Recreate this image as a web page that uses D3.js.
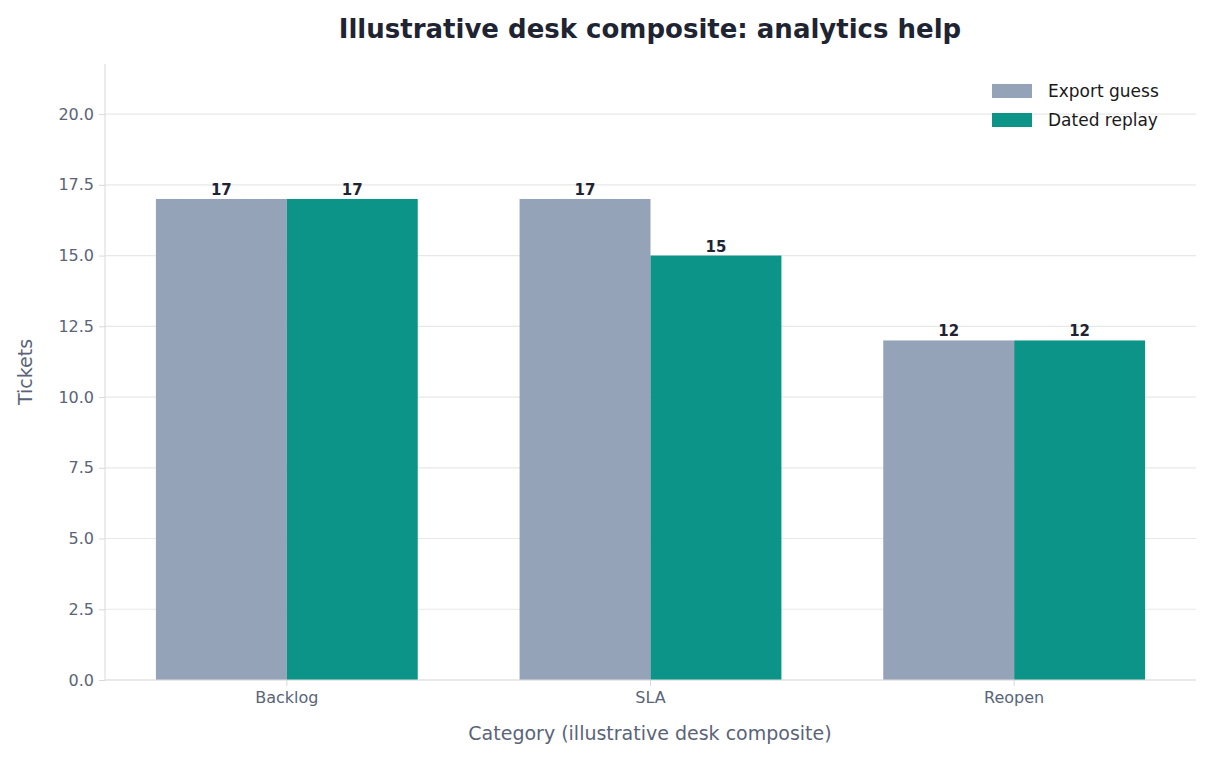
<!DOCTYPE html>
<html><head><meta charset="utf-8">
<script src="https://cdn.jsdelivr.net/npm/d3@7"></script>
<style>body{margin:0;background:#fff;font-family:"DejaVu Sans",sans-serif;}</style>
</head><body><svg id="c" width="1212" height="760"></svg>
<script>
const categories = ["Backlog","SLA","Reopen"];
const seriesNames = ["Export guess","Dated replay"];
const exportGuess = [17,17,12];
const datedReplay = [17,15,12];
const yTicks = [0,2.5,5,7.5,10,12.5,15,17.5,20];
const colors = ["#94a3b8","#0d9488"];

const svg = d3.select("#c");
const L=105,R=1196,T=64,B=680;
const x = d3.scaleBand().domain(categories).range([L,R]).padding(0);
const y = d3.scaleLinear().domain([0,21.77]).range([B,T]);
const bw = x.step()*0.36;

svg.append("text").attr("x",650).attr("y",38).attr("text-anchor","middle")
 .attr("font-size",26).attr("font-weight","bold").attr("fill","#1f2433")
 .text("Illustrative desk composite: analytics help");

const g = svg.append("g");
g.selectAll(".grid").data(yTicks).join("line")
 .attr("x1",L).attr("x2",R).attr("y1",d=>y(d)).attr("y2",d=>y(d))
 .attr("stroke","#e8e8e8").attr("stroke-width",1.2);

const series=[exportGuess,datedReplay];
series.forEach((vals,si)=>{
  const cx = c=>x(c)+x.bandwidth()/2 + (si===0?-bw:0);
  g.selectAll(".b"+si).data(categories).join("rect")
   .attr("x",c=>cx(c)).attr("width",bw)
   .attr("y",(c,i)=>y(vals[i])).attr("height",(c,i)=>B-y(vals[i]))
   .attr("fill",colors[si]);
  g.selectAll(".t"+si).data(categories).join("text")
   .attr("x",c=>cx(c)+bw/2).attr("y",(c,i)=>y(vals[i])-4)
   .attr("text-anchor","middle").attr("font-size",15).attr("font-weight","bold")
   .attr("fill","#1f2433").text((c,i)=>vals[i]);
});

// spines
g.append("line").attr("x1",L).attr("x2",L).attr("y1",T).attr("y2",B).attr("stroke","#e0e0e0").attr("stroke-width",1.2);
g.append("line").attr("x1",L).attr("x2",R).attr("y1",B).attr("y2",B).attr("stroke","#e0e0e0").attr("stroke-width",1.2);

const ya = g.append("g").attr("transform",`translate(${L},0)`)
 .call(d3.axisLeft(y).tickValues(yTicks).tickFormat(d3.format(".1f")).tickSize(6).tickPadding(5));
ya.select(".domain").remove();
ya.selectAll("line").attr("stroke","#d8d8d8");
ya.selectAll("text").attr("font-size",16).attr("fill","#5a6478").attr("font-family","DejaVu Sans");

const xa = g.append("g").attr("transform",`translate(0,${B})`)
 .call(d3.axisBottom(x).tickSize(6).tickPadding(6));
xa.select(".domain").remove();
xa.selectAll("line").attr("stroke","#d8d8d8");
xa.selectAll("text").attr("font-size",16).attr("fill","#5a6478").attr("font-family","DejaVu Sans");

svg.append("text").attr("x",650).attr("y",740).attr("text-anchor","middle")
 .attr("font-size",19).attr("fill","#5a6478").text("Category (illustrative desk composite)");
svg.append("text").attr("transform","translate(32,372) rotate(-90)").attr("text-anchor","middle")
 .attr("font-size",19).attr("fill","#5a6478").text("Tickets");

const lg = svg.append("g");
seriesNames.forEach((n,i)=>{
  lg.append("rect").attr("x",992).attr("y",84+i*29).attr("width",40).attr("height",14).attr("fill",colors[i]);
  lg.append("text").attr("x",1048).attr("y",97+i*29).attr("font-size",17).attr("fill","#1a1a1a").text(n);
});
</script></body></html>
